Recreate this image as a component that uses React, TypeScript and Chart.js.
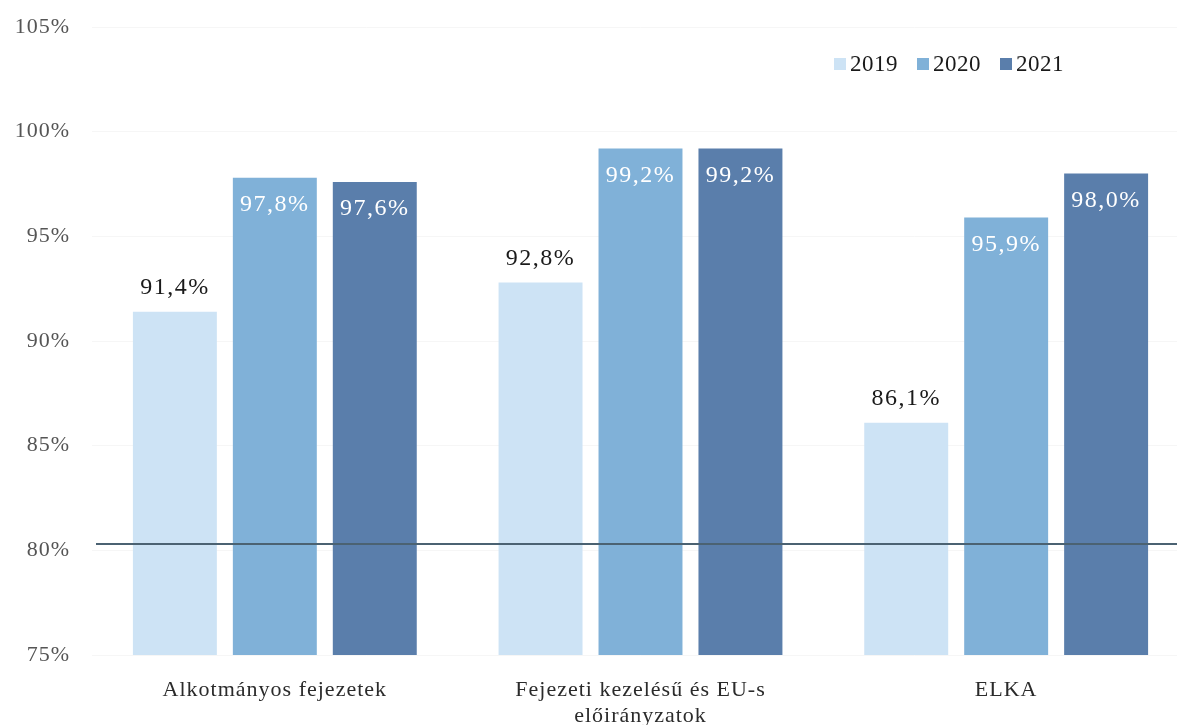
import React, { useEffect, useRef } from "react";
import { Chart, registerables } from "chart.js";

Chart.register(...registerables);

const categories: (string | string[])[] = [
  "Alkotmányos fejezetek",
  ["Fejezeti kezelésű és EU-s", "előirányzatok"],
  "ELKA",
];
const seriesLabels = ["2019", "2020", "2021"];
const values2019 = [91.4, 92.8, 86.1];
const values2020 = [97.8, 99.2, 95.9];
const values2021 = [97.6, 99.2, 98.0];
const colors = ["#cde3f5", "#80b1d8", "#5a7eab"];
const yTicks = [75, 80, 85, 90, 95, 100, 105];
const thresholdValue = 80.3;

const FONT = "'Liberation Serif', 'DejaVu Serif', serif";

const fmt = (v: number) => v.toFixed(1).replace(".", ",") + "%";

const spacingPlugin = {
  id: "spacing",
  beforeDraw(chart: any) {
    (chart.ctx as any).letterSpacing = "1px";
  },
};

const overlayPlugin = {
  id: "overlay",
  afterDatasetsDraw(chart: any) {
    const { ctx, chartArea, scales } = chart;
    ctx.save();
    // threshold line
    const y = scales.y.getPixelForValue(thresholdValue);
    ctx.strokeStyle = "#4b6272";
    ctx.lineWidth = 2;
    ctx.beginPath();
    ctx.moveTo(chartArea.left + 4, y);
    ctx.lineTo(chartArea.right, y);
    ctx.stroke();

    // data labels
    (ctx as any).letterSpacing = "1.5px";
    ctx.font = `24px ${FONT}`;
    ctx.textAlign = "center";
    ctx.textBaseline = "middle";
    chart.data.datasets.forEach((ds: any, di: number) => {
      const meta = chart.getDatasetMeta(di);
      meta.data.forEach((bar: any, i: number) => {
        const v = ds.data[i];
        if (di === 0) {
          ctx.fillStyle = "#1a1a1a";
          ctx.fillText(fmt(v), bar.x, bar.y - 24);
        } else {
          ctx.fillStyle = "#ffffff";
          ctx.fillText(fmt(v), bar.x, bar.y + 27);
        }
      });
    });

    // legend
    (ctx as any).letterSpacing = "0.5px";
    ctx.textAlign = "left";
    ctx.font = `23px ${FONT}`;
    let x = 834;
    const ly = 64;
    seriesLabels.forEach((lab, i) => {
      ctx.fillStyle = colors[i];
      ctx.fillRect(x, ly - 6, 12, 12);
      ctx.fillStyle = "#1a1a1a";
      ctx.fillText(lab, x + 16, ly + 1);
      x += 83;
    });
    ctx.restore();
  },
};

export default function App() {
  const ref = useRef<HTMLCanvasElement | null>(null);
  useEffect(() => {
    document.body.style.overflow = "hidden";
    const canvas = ref.current!;
    const chart = new Chart(canvas, {
      type: "bar",
      data: {
        labels: categories as any,
        datasets: [values2019, values2020, values2021].map((d, i) => ({
          label: seriesLabels[i],
          data: d,
          backgroundColor: colors[i],
          barPercentage: 0.84,
          categoryPercentage: 0.82,
        })),
      },
      options: {
        animation: false,
        responsive: false,
        maintainAspectRatio: false,
        layout: { padding: { top: 27, bottom: 0, left: 0, right: 0 } },
        plugins: { legend: { display: false }, tooltip: { enabled: false } },
        scales: {
          x: {
            grid: { display: false },
            border: { display: false },
            ticks: {
              color: "#2b2b2b",
              font: { family: FONT, size: 22 },
              padding: 14,
              maxRotation: 0,
              autoSkip: false,
            },
            afterFit: (s: any) => {
              s.height = 70;
              s.paddingLeft = 0;
              s.paddingRight = 0;
            },
          },
          y: {
            min: 75,
            max: 105,
            afterBuildTicks: (s: any) => {
              s.ticks = yTicks.map((v) => ({ value: v }));
            },
            grid: { color: "rgba(0,0,0,0.035)", drawTicks: false },
            border: { display: false },
            ticks: {
              color: "#555555",
              font: { family: FONT, size: 22 },
              padding: 22,
              callback: (v: any) => v + "%",
            },
            afterFit: (s: any) => {
              s.width = 92;
              s.paddingTop = 0;
              s.paddingBottom = 0;
            },
          },
        },
      },
      plugins: [spacingPlugin, overlayPlugin],
    });
    return () => chart.destroy();
  }, []);
  return (
    <div style={{ position: "absolute", left: 0, top: 0, width: 1189, height: 725 }}>
      <canvas ref={ref} width={1189} height={725} style={{ width: 1189, height: 725 }} />
    </div>
  );
}
